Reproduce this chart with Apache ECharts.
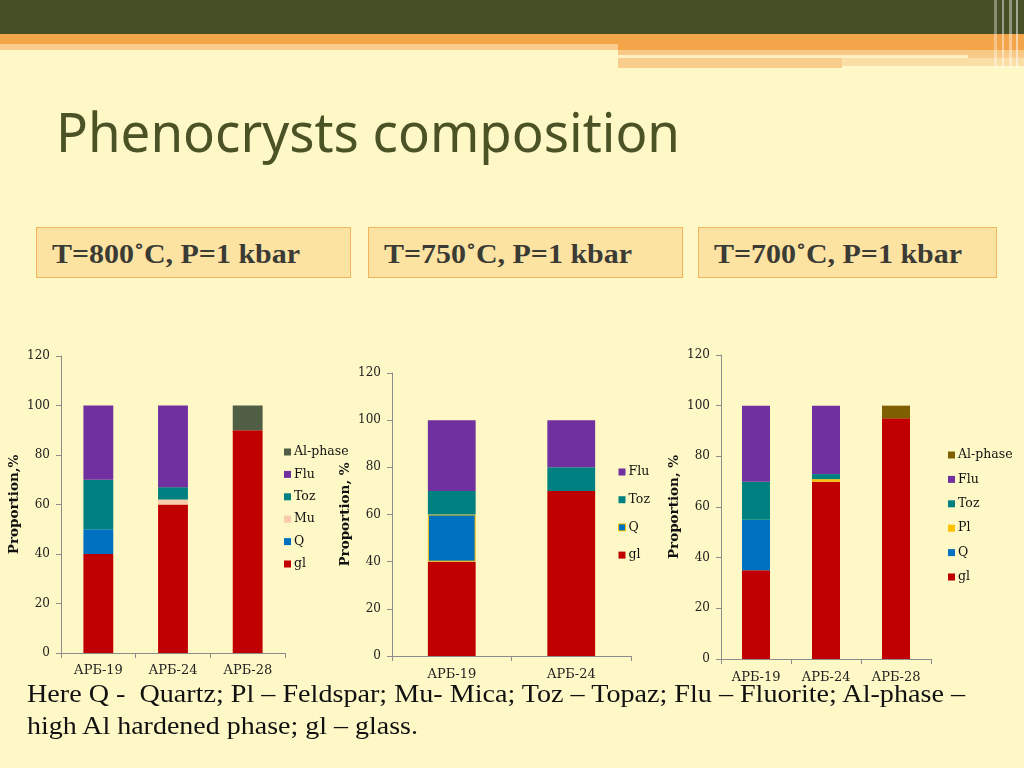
<!DOCTYPE html>
<html>
<head>
<meta charset="utf-8">
<script src="https://cdn.jsdelivr.net/npm/echarts@6/dist/echarts.min.js"></script>
<style>
  html, body { margin: 0; padding: 0; }
  body { width: 1024px; height: 768px; position: relative; overflow: hidden; background: #FEF8C6; }
  .band { position: absolute; }
  .fit { position: absolute; white-space: nowrap; transform-origin: 0 0; }
  .box { position: absolute; top: 227px; height: 49px; background: #FDE3A2; border: 1px solid #F2B45E; box-sizing: content-box; }
  .boxtxt { font-family: "Liberation Serif", serif; font-weight: bold; font-size: 28px; color: #3B3B35; }
  #chart { position: absolute; left: 0; top: 0; width: 1024px; height: 768px; }
</style>
</head>
<body>
  <div class="band" style="left:0;top:0;width:1024px;height:34px;background:#474F27"></div>
  <div class="band" style="left:0;top:34px;width:1024px;height:10px;background:#F4A54A"></div>
  <div class="band" style="left:0;top:44px;width:618px;height:6px;background:#FACB8C"></div>
  <div class="band" style="left:618px;top:44px;width:406px;height:6px;background:#F4A54A"></div>
  <div class="band" style="left:618px;top:50px;width:406px;height:5px;background:#F8C985"></div>
  <div class="band" style="left:618px;top:55px;width:350px;height:3px;background:#FEF0C2"></div>
  <div class="band" style="left:968px;top:55px;width:56px;height:3px;background:#F8CB8A"></div>
  <div class="band" style="left:618px;top:58px;width:224px;height:10px;background:#F9CD8E"></div>
  <div class="band" style="left:842px;top:58px;width:182px;height:8px;background:#FBDDA6"></div>
  <div class="band" style="left:994px;top:0;width:3px;height:68px;background:rgba(255,255,255,0.35)"></div>
  <div class="band" style="left:1002px;top:0;width:2px;height:68px;background:rgba(255,255,255,0.45)"></div>
  <div class="band" style="left:1009px;top:0;width:3px;height:68px;background:rgba(255,255,255,0.4)"></div>
  <div class="band" style="left:1016px;top:0;width:2px;height:68px;background:rgba(255,255,255,0.5)"></div>

  <div id="title" class="fit" data-w="624" style="left:56px;top:96px;font-family:'Noto Sans',sans-serif;font-size:54px;color:#4A5226;line-height:70px">Phenocrysts composition</div>

  <div class="box" style="left:36px;width:313px"></div>
  <div class="box" style="left:368px;width:313px"></div>
  <div class="box" style="left:698px;width:297px"></div>
  <div class="fit boxtxt" data-w="248" style="left:52px;top:236px;line-height:36px">T=800˚C, P=1 kbar</div>
  <div class="fit boxtxt" data-w="248" style="left:384px;top:236px;line-height:36px">T=750˚C, P=1 kbar</div>
  <div class="fit boxtxt" data-w="248" style="left:714px;top:236px;line-height:36px">T=700˚C, P=1 kbar</div>

  <div id="chart"></div>

  <div class="fit" data-w="938" style="left:27px;top:678px;font-family:'Liberation Serif',serif;font-size:25px;color:#111;line-height:32px">Here Q -&nbsp; Quartz; Pl – Feldspar; Mu- Mica; Toz – Topaz; Flu – Fluorite; Al-phase –</div>
  <div class="fit" data-w="391" style="left:27px;top:710px;font-family:'Liberation Serif',serif;font-size:25px;color:#111;line-height:32px">high Al hardened phase; gl – glass.</div>

<script>
// ---------- data ----------
const yTicks = [0, 20, 40, 60, 80, 100, 120];

const categories800 = ['АРБ-19', 'АРБ-24', 'АРБ-28'];
const gl800  = [40, 60, 90];
const q800   = [10, 0, 0];
const mu800  = [0, 2, 0];
const toz800 = [20, 5, 0];
const flu800 = [30, 33, 0];
const al800  = [0, 0, 10];

const categories750 = ['АРБ-19', 'АРБ-24'];
const gl750  = [40, 70];
const q750   = [20, null];
const toz750 = [10, 10];
const flu750 = [30, 20];

const categories700 = ['АРБ-19', 'АРБ-24', 'АРБ-28'];
const gl700  = [35, 70, 95];
const q700   = [20, 0, 0];
const pl700  = [0, 1, 0];
const toz700 = [15, 2, 0];
const flu700 = [30, 27, 0];
const al700  = [0, 0, 5];

// ---------- styles ----------
const C = {
  gl: '#C00000', Q: '#0070C0', Mu: '#F8CBAD', Toz: '#008080',
  Flu: '#7030A0', Pl: '#FFC000', Al1: '#505E45', Al3: '#7F6000'
};
const serif = 'DejaVu Serif';
const axisColor = '#8C8C8C';

// fit texts to measured widths
document.querySelectorAll('.fit').forEach(el => {
  const target = parseFloat(el.dataset.w);
  const w = el.getBoundingClientRect().width;
  if (w > 0) el.style.transform = 'scaleX(' + (target / w) + ')';
});

const grids = [
  { left: 61, top: 356, width: 224, height: 297 },
  { left: 392, top: 373, width: 239, height: 283 },
  { left: 721, top: 355, width: 210, height: 304 }
];
const yNames = ['Proportion,%', 'Proportion, %', 'Proportion, %'];
const cats = [categories800, categories750, categories700];
const xMargins = [11, 12, 12];

const xAxis = cats.map((c, i) => ({
  type: 'category', gridIndex: i, data: c,
  axisLine: { lineStyle: { color: axisColor, width: 1 } },
  axisTick: { show: true, length: 5, lineStyle: { color: axisColor } },
  axisLabel: { fontFamily: serif, fontSize: 13, color: '#222', margin: xMargins[i] }
}));
const yAxis = cats.map((c, i) => ({
  type: 'value', gridIndex: i, min: yTicks[0], max: yTicks[yTicks.length - 1], interval: yTicks[1] - yTicks[0],
  name: yNames[i], nameLocation: 'middle', nameGap: 40, nameRotate: 90,
  nameTextStyle: { fontFamily: serif, fontWeight: 'bold', fontSize: 13.5, color: '#111' },
  axisLine: { show: true, lineStyle: { color: axisColor, width: 1 } },
  axisTick: { show: true, length: 5, lineStyle: { color: axisColor } },
  splitLine: { show: false },
  axisLabel: { fontFamily: serif, fontSize: 12, color: '#222', margin: 11 }
}));

function bar(name, data, color, idx, extra) {
  return Object.assign({
    type: 'bar', name, data, stack: 's' + idx, xAxisIndex: idx, yAxisIndex: idx,
    barWidth: '40%', itemStyle: { color }, emphasis: { disabled: true }, animation: false
  }, extra || {});
}

const series = [
  bar('gl', gl800, C.gl, 0), bar('Q', q800, C.Q, 0), bar('Mu', mu800, C.Mu, 0),
  bar('Toz', toz800, C.Toz, 0), bar('Flu', flu800, C.Flu, 0), bar('Al-phase', al800, C.Al1, 0),
  bar('gl', gl750, C.gl, 1),
  bar('Q', q750, C.Q, 1, { itemStyle: { color: C.Q, borderColor: C.Pl, borderWidth: 1 } }),
  bar('Toz', toz750, C.Toz, 1), bar('Flu', flu750, C.Flu, 1),
  bar('gl', gl700, C.gl, 2), bar('Q', q700, C.Q, 2), bar('Pl', pl700, C.Pl, 2),
  bar('Toz', toz700, C.Toz, 2), bar('Flu', flu700, C.Flu, 2), bar('Al-phase', al700, C.Al3, 2)
];

function legend(left, top, gap, items) {
  return {
    orient: 'vertical', left, top, itemGap: gap, itemWidth: 7, itemHeight: 7,
    icon: 'rect', selectedMode: false,
    textStyle: { fontFamily: serif, fontSize: 12.5, color: '#111', lineHeight: 14, padding: [0, 0, 0, -2] },
    data: items.map(([name, color, border]) => ({
      name, icon: 'rect',
      itemStyle: border ? { color, borderColor: border, borderWidth: 1 } : { color, borderWidth: 0 }
    }))
  };
}

const chart = echarts.init(document.getElementById('chart'), null, { renderer: 'canvas' });
chart.setOption({
  backgroundColor: 'transparent',
  animation: false,
  grid: grids,
  xAxis, yAxis,
  legend: [
    legend(279, 440, 8.4, [['Al-phase', C.Al1], ['Flu', C.Flu], ['Toz', C.Toz], ['Mu', C.Mu], ['Q', C.Q], ['gl', C.gl]]),
    legend(613, 460, 13.7, [['Flu', C.Flu], ['Toz', C.Toz], ['Q', C.Q, C.Pl], ['gl', C.gl]]),
    legend(943, 443, 10.4, [['Al-phase', C.Al3], ['Flu', C.Flu], ['Toz', C.Toz], ['Pl', C.Pl], ['Q', C.Q], ['gl', C.gl]])
  ],
  series
});
</script>
</body>
</html>
